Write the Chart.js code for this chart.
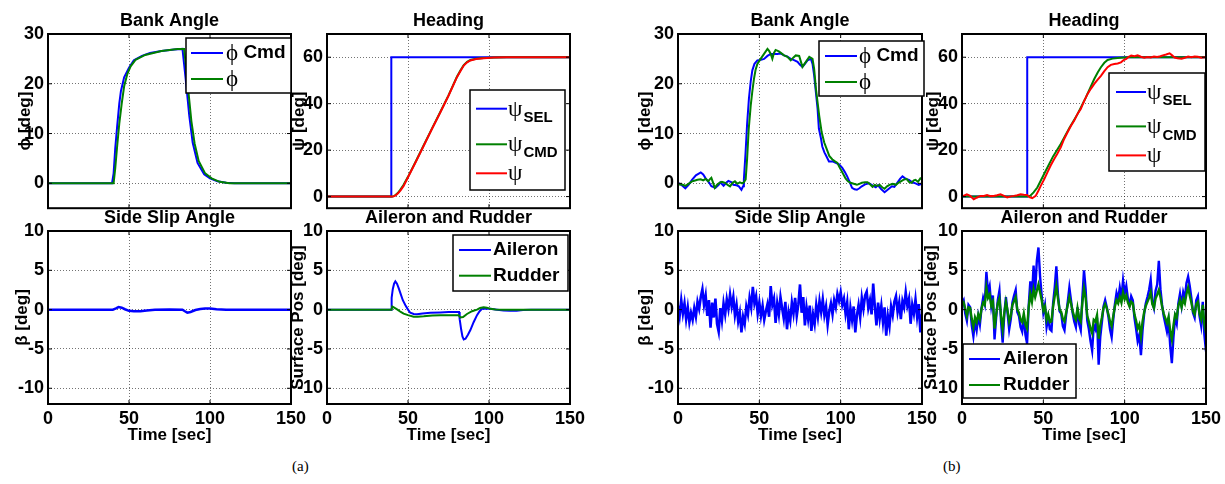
<!DOCTYPE html>
<html>
<head>
<meta charset="utf-8">
<script src="https://cdn.jsdelivr.net/npm/chart.js@4.4.0/dist/chart.umd.min.js"></script>
<style>
  body { margin: 0; background: #fff; }
  #fig { position: relative; width: 1225px; height: 484px; overflow: hidden; }
  #fig canvas { position: absolute; }
  .cap { position: absolute; font-family: 'Liberation Serif', 'Times New Roman', serif; font-size: 15px; line-height: 15px; }
</style>
</head>
<body>
<div id="fig">
  <div class="cap" style="left:292px;top:459px">(a)</div>
  <div class="cap" style="left:943px;top:459px">(b)</div>
</div>
<script>
// ---- axis ticks ----
const TIME_TICKS = [0, 50, 100, 150];
const BANK_TICKS = [0, 10, 20, 30];
const HEADING_TICKS = [0, 20, 40, 60];
const SLIP_TICKS = [-10, -5, 0, 5, 10];

// ---- run (a): smooth response, [time, value] ----
const phiCmdA = [[0,0],[39.5,0],[40.5,2],[41.5,7],[42.7,11.5],[44,16],[45,18.5],[47,21.3],[50,23.2],[53,24.7],[58,25.6],[63,26.2],[70,26.6],[78,26.9],[83,27],[84,24],[85.2,20.3],[87.2,13.6],[89.3,8.2],[92.3,4.1],[96.4,1.8],[100,1],[104.6,0.4],[110,0.1],[115,0],[150,0]];
const phiA = [[0,0],[40.5,0],[41.5,3],[42.7,7.5],[44,12],[45.5,16],[47,19.5],[49,22],[51,23.5],[54,24.8],[60,25.8],[70,26.6],[80,27],[84,27],[85,24],[86.5,19],[88.5,12.5],[90.5,8],[93,4.5],[97,2],[101,1],[106,0.3],[112,0],[150,0]];
const psiSelA = [[0,0],[39.7,0],[39.7,60],[150,60]];
const psiCmdA = [[0,0],[40.3,0],[41.3,0.2],[42.3,0.7],[43.8,1.6],[45.3,3],[47.1,4.9],[50,8.5],[55,15.4],[59.7,22.1],[65,29.6],[70,36.5],[75,43.6],[80.2,51.6],[82.5,54.5],[84.4,56.6],[86.5,58],[88.5,58.8],[92,59.3],[96.7,59.7],[103,59.9],[111,60],[150,60]];
const psiA = [[0,0],[40.5,0],[41.5,0.2],[42.5,0.6],[44,1.5],[45.5,2.8],[47.3,4.6],[50,8.3],[55,15.2],[59.7,21.9],[65,29.4],[70,36.3],[75,43.4],[80.2,51.4],[82.5,54.2],[84.4,56.4],[86.5,57.8],[88.5,58.6],[92,59.2],[96.7,59.6],[103,59.9],[111,60],[150,60]];
const betaA = [[0,0],[40,0],[42,0.15],[43.6,0.34],[45.5,0.25],[47.5,0.05],[50,-0.15],[53,-0.22],[57,-0.2],[61,-0.1],[66,0],[75,0.02],[83,0],[84.5,-0.2],[86,-0.38],[88,-0.3],[91,-0.05],[94,0.08],[97,0.15],[100,0.14],[104,0.05],[110,-0.02],[120,0],[150,0]];
const aileronA = [[0,0],[39.7,0],[39.9,1.5],[40.6,2.6],[41.4,3.3],[42.2,3.6],[43.2,3.3],[44.3,2.7],[45.3,2.1],[46.8,1.2],[48.4,0.55],[50,0],[51.4,-0.4],[53.5,-0.55],[55.6,-0.6],[59,-0.5],[63.8,-0.4],[70,-0.35],[75,-0.3],[81.5,-0.3],[81.9,-1.2],[82.8,-2.5],[83.6,-3.4],[84.4,-3.8],[85.5,-3.7],[87,-3.2],[88.5,-2.6],[90.5,-1.6],[92.6,-0.7],[94.2,-0.2],[95.7,0.1],[97.5,0.15],[100.8,0.1],[105,0],[109,-0.1],[113,-0.15],[117,-0.15],[121,-0.05],[126,0],[150,0]];
const rudderA = [[0,0],[39.8,0],[40.3,0.4],[41.5,0.25],[43.5,0],[45.5,-0.3],[47.3,-0.5],[50,-0.7],[53.5,-0.9],[56,-0.9],[59.7,-0.85],[65,-0.75],[70,-0.7],[76,-0.7],[81.3,-0.7],[82.3,-1.0],[84,-0.95],[86.4,-0.55],[89.5,-0.2],[92.6,0],[94.5,0.2],[96.7,0.3],[98.7,0.25],[100.8,0.1],[104,0.02],[110,0],[150,0]];

// ---- run (b): with turbulence ----
const phiCmdB = [[0,0.1],[2,-0.3],[4.5,-1.0],[6.5,-0.3],[8.6,0.7],[11,1.6],[14,2.2],[15.5,1.8],[17,1.0],[19,0.2],[20.5,-0.6],[23,-0.9],[25,-0.3],[26,0.2],[28,-0.5],[30,0.2],[31,0.5],[33,0.2],[34,-0.3],[36,-0.4],[37.4,-0.6],[39,-1.3],[40,-0.6],[40.5,0.8],[41.5,6],[42.5,12],[43.6,17],[44.7,20.5],[45.7,22.7],[47,24],[48.8,24.7],[51,24.8],[52.9,25],[55,25.6],[57,26],[61,26],[63,26.1],[65.2,25.7],[67,25.5],[69.3,25],[71,24.8],[73.5,24.4],[75,23.8],[76.5,23.4],[78,24],[79.6,24.7],[81.7,25],[82.7,24],[83.7,21.7],[85.8,15],[86.6,11],[87.9,9],[88.7,7.4],[90,6.2],[91,5.6],[92.8,4.4],[95,4.4],[97,4.1],[99,3.8],[101,3.1],[102.5,2.3],[104,1.4],[105.5,0.3],[107,-0.9],[108.5,-1.2],[110,-1.3],[111.5,-1.0],[113,-0.6],[115,-0.2],[117.5,0],[119.5,-0.4],[121.6,-0.8],[123,-0.4],[125,-1.2],[127,-1.8],[128.5,-1.4],[130,-1.0],[131.5,-0.6],[133,-0.7],[135,0.2],[136.5,0.9],[138,1.4],[140,0.9],[142,0.7],[144,0.2],[146,0],[148,-0.3],[150,-0.1]];
const phiB = [[0,-0.3],[2,-0.2],[4.5,-0.5],[6,-0.2],[8.6,0.4],[10,0.5],[12,0.7],[14,0.8],[15.5,0.6],[17,0.9],[18.5,0.4],[19.5,0.8],[20.5,1.1],[21.5,0.2],[22.6,-0.9],[24,-0.3],[25.5,0.1],[27,0.3],[29,0.1],[30.5,-0.3],[32,-0.6],[33.5,0.1],[35,0.4],[36.5,-0.1],[38,0.2],[39.5,0],[40.5,0.2],[41.6,0.8],[42.5,5],[43.5,11],[44.7,15.6],[45.7,18.5],[46.7,21],[47.7,22.8],[48.8,24],[50.8,25],[52.9,26],[55,27],[56,26.6],[57,26],[58,25],[59,26.2],[60,26.8],[62,26.5],[63.2,26.2],[65.2,25.7],[67.3,25.4],[69.3,24.7],[71,25.3],[72.4,25.7],[74.5,25.6],[75.5,24.5],[76.5,23.4],[78.6,24.4],[80.7,25.4],[82.7,25],[83.7,23],[84.8,19],[86.8,13.6],[88.3,10.3],[89.9,8.2],[91.5,6.8],[93,5.5],[94.9,4.8],[96.5,4.4],[98,4.1],[99,3.4],[101,2.2],[103,1.0],[104.5,0.4],[106,0.1],[108,-0.1],[110,-0.3],[111.5,-0.1],[113,0.1],[115,0.2],[116.5,0.2],[118,-0.2],[119.6,-0.7],[121,-0.3],[122.5,-0.5],[124,-0.3],[125.5,-0.8],[127,-1.1],[128.5,-0.6],[130,-0.3],[132,-0.1],[134,-0.3],[135.5,0.1],[137,0.4],[138.5,0.7],[140.5,0.9],[142,0.3],[143.5,0.1],[145,0.6],[146,0.7],[147.5,0.3],[149,1.0],[150,0.8]];
const psiSelB = [[0,0],[40.1,0],[40.1,60],[150,60]];
const psiCmdB = [[0,0],[40.5,0],[42,0.4],[44,1.8],[46.3,3.9],[49,7.7],[52.5,12.5],[56,17.3],[60.7,22.6],[66,29.5],[71,35.5],[76,42.5],[81.3,50.6],[83.5,53.5],[85.4,55.7],[87.5,57.6],[89.5,58.8],[92.5,59.4],[95.7,59.7],[101.9,60],[150,60]];
const psiB = [[0,0.3],[1.5,0.5],[3,1.0],[5,0.3],[7.2,-1.2],[9,-0.5],[11.3,0.3],[13.5,0.3],[15.4,0.7],[17.5,0.2],[19.5,0.3],[21.5,0.6],[23.7,1.0],[25.5,0.4],[27.8,-0.4],[30,0.1],[32,0.3],[34,0.6],[36,1.0],[38,0.8],[40,0.7],[41.5,-0.2],[43.2,-0.7],[45.3,0.3],[46.8,2.3],[48.4,4.6],[50.5,7.4],[52.5,10.4],[54.5,13.4],[56.6,16.1],[58.5,18.3],[60.7,21.2],[62.8,24.8],[64.8,27.6],[67,30.5],[69,32.7],[71,35.6],[73,37.7],[75,41],[77.2,44.2],[79.3,46.5],[81.3,48.5],[83.4,50.4],[85.4,52],[87.5,54],[89.5,55.7],[91.5,56.7],[93.6,57.1],[95.7,57.3],[97.7,57.8],[99.4,58.8],[101,59.3],[102.5,60.2],[104,60.7],[106,60.4],[108,60.8],[110,60.2],[112,59.8],[114,60.1],[116,59.9],[118,60.3],[120,60.1],[122,60.4],[123.5,60.8],[125.5,61.2],[127.6,61.7],[129,60.9],[130.7,59.9],[132.5,59.6],[135,59.4],[137,59.8],[139,60.3],[141,60.0],[143,60.3],[145,60.2],[147,59.8],[149,60.0],[150,60.0]];

// 1 s records, t = 0..150
const betaB = [0.5,-0.8,1.2,-0.5,0.8,-1.2,0.3,-1.6,-0.4,-1.3,0.2,-0.9,1.0,0.1,1.6,2.6,0.6,1.8,-0.8,1.2,
  -2.3,0.9,-1.0,1.4,-1.8,-2.8,0.2,-1.4,0.8,-0.6,1.3,0.1,1.9,0.4,1.6,-0.7,0.6,-1.5,-0.4,-2.9,
  -0.9,-1.8,0.4,-0.6,1.5,0.3,2.9,0.8,1.7,-0.5,0.9,-0.8,0.5,-1.3,-0.2,0.7,-0.9,3.0,0.6,1.4,
  -1.7,0.8,-0.6,1.6,0.2,-1.1,1.0,-2.5,-0.3,-1.4,0.9,-0.5,1.5,-0.8,0.7,3.2,-0.4,1.6,-2.0,0.3,
  -1.2,0.5,-2.7,-0.6,-1.8,0.6,-0.9,1.1,-0.3,1.3,-0.7,0.4,-1.9,-0.2,0.8,-0.6,1.2,0.3,2.0,1.1,
  2.2,0.6,1.4,-0.5,0.9,-2.5,0.2,-1.3,0.4,-2.9,-0.7,0.6,-1.0,1.5,0.1,1.8,2.3,0.2,1.2,-0.6,
  3.3,0.4,-2.0,0.9,-1.1,0.5,-1.6,0.3,-3.3,-0.8,-2.1,0.4,-0.7,1.0,1.7,-0.3,0.9,-1.2,1.1,0.3,
  2.2,0.5,1.4,-1.8,0.6,-0.5,1.3,-0.9,0.7,-2.9,-0.6];
const aileronB = [0.8,1.2,-0.5,-1.4,0.6,0.3,-2.0,-3.4,-1.5,-2.6,-0.8,-1.9,0.2,1.5,0.7,4.8,2.2,3.0,0.5,1.8,
  -3.8,-1.0,1.2,2.4,-1.5,-4.2,-0.6,1.6,-0.4,-2.5,-1.2,0.9,1.8,2.5,-0.3,-0.8,-2.2,-2.8,-0.9,-3.2,
  -4.3,0.5,3.6,1.5,5.6,2.4,6.2,7.9,4.2,1.8,-0.4,0.6,-2.2,-1.0,-2.5,-2.7,0.8,2.8,5.5,1.9,
  -0.2,-0.5,-2.1,-2.6,-0.7,1.0,2.8,1.2,-0.4,-1.5,-2.2,0.3,-1.8,-2.6,1.5,5.0,2.6,-1.4,-2.5,-4.0,
  -5.2,-2.0,-2.5,-1.0,-7.0,-3.5,-1.6,0.4,1.2,0.3,-0.9,-2.5,-3.5,-1.2,0.7,2.1,1.3,2.8,1.5,3.7,
  2.0,3.0,1.4,0.6,1.7,1.2,-1.0,-2.4,-4.0,-3.2,-5.8,-2.6,-0.5,0.8,1.6,2.5,3.8,1.0,0.2,2.4,
  3.2,6.2,2.6,0.6,-0.8,-1.8,-2.8,-1.5,-4.6,-6.8,-3.5,-1.0,-1.8,0.8,2.0,0.5,2.2,1.4,3.4,4.2,
  3.0,1.5,-0.4,-1.0,1.2,1.7,-0.8,-2.0,1.0,-3.2,-5.3];
const rudderB = [0.6,0.9,0.1,-0.8,0.3,0.2,-1.2,-2.2,-1.0,-1.6,-0.6,-1.2,0.1,0.9,0.6,2.8,1.5,1.9,0.5,1.0,
  -2.4,-0.6,0.8,1.4,-0.8,-2.5,-0.4,1.0,-0.1,-1.5,-0.8,0.6,1.1,1.6,0.0,-0.4,-1.3,-1.6,-0.5,-1.9,
  -2.4,0.3,2.0,1.0,2.6,1.6,2.4,3.2,2.2,1.2,-0.1,0.4,-1.3,-0.6,-1.6,-1.5,0.4,1.7,3.0,1.4,
  0.0,-0.3,-1.2,-1.5,-0.4,0.6,1.6,0.8,-0.2,-0.9,-1.3,0.2,-1.1,-1.5,0.9,2.7,1.5,-0.8,-1.5,-2.4,
  -3.0,-1.3,-1.5,-0.7,-3.7,-2.0,-1.0,0.2,0.7,0.2,-0.6,-1.5,-2.1,-0.8,0.4,1.2,0.8,1.6,0.9,2.2,
  1.3,1.8,0.9,0.4,1.0,0.8,-0.6,-1.4,-2.4,-1.9,-3.4,-1.5,-0.3,0.5,1.0,1.5,2.2,0.7,0.2,1.4,
  1.9,2.5,1.6,0.4,-0.5,-1.1,-1.7,-0.9,-2.7,-3.8,-2.0,-0.6,-1.0,0.5,1.2,0.3,1.3,0.8,2.0,2.8,
  1.8,0.9,-0.2,-0.6,0.7,1.0,-0.5,-1.2,0.6,-1.9,-3.0];
const T1 = betaB.map((_, i) => i);

const BLUE = '#0000ff', GREEN = '#008000', RED = '#ff0000';
const SANS = "'Liberation Sans', Arial, sans-serif";
const SERIF = "'Liberation Serif', 'Times New Roman', serif";
const TITLE_SIZE = 18;
const LABEL_SIZE = 17;

const pts = pairs => pairs.map(([x, y]) => ({ x, y }));
const perSecond = vals => vals.map((y, i) => ({ x: T1[i], y }));

// box frame with inward tick marks, drawn over the data
const axesBox = {
  id: 'axesBox',
  afterDatasetsDraw(chart) {
    const { ctx, chartArea: a, scales } = chart;
    ctx.save();
    ctx.strokeStyle = '#000';
    ctx.lineWidth = 1;
    ctx.beginPath();
    scales.x.ticks.forEach(t => {
      const px = scales.x.getPixelForValue(t.value);
      ctx.moveTo(px, a.bottom); ctx.lineTo(px, a.bottom - 4);
      ctx.moveTo(px, a.top); ctx.lineTo(px, a.top + 4);
    });
    scales.y.ticks.forEach(t => {
      const py = scales.y.getPixelForValue(t.value);
      ctx.moveTo(a.left, py); ctx.lineTo(a.left + 4, py);
      ctx.moveTo(a.right, py); ctx.lineTo(a.right - 4, py);
    });
    ctx.stroke();
    ctx.lineWidth = 2;
    ctx.strokeRect(a.left, a.top, a.right - a.left, a.bottom - a.top);
    ctx.restore();
  }
};

// label text: greek letters in a serif face, the rest bold, "_" starts a subscript
function drawRichLabel(ctx, label, x, y) {
  const [main, sub] = label.split('_');
  ctx.textBaseline = 'middle';
  ctx.textAlign = 'left';
  ctx.fillStyle = '#000';
  for (const ch of main) {
    const greek = /[\u0370-\u03ff]/.test(ch);
    ctx.font = greek ? `23px ${SERIF}` : `bold 19px ${SANS}`;
    ctx.fillText(ch, x, y + (greek ? 1 : 0));
    x += ctx.measureText(ch).width;
  }
  if (sub) {
    ctx.font = `bold 15px ${SANS}`;
    ctx.fillText(sub, x + 1, y + 9);
  }
}

// boxed legend placed inside the axes
const boxLegend = {
  id: 'boxLegend',
  afterDraw(chart) {
    const o = chart.options.plugins.boxLegend;
    if (!o || !o.box) return;
    const ctx = chart.ctx;
    const x = o.box.x - o.origin.x, y = o.box.y - o.origin.y;
    ctx.save();
    ctx.fillStyle = '#fff';
    ctx.fillRect(x, y, o.box.w, o.box.h);
    ctx.strokeStyle = '#000';
    ctx.lineWidth = 1.5;
    ctx.strokeRect(x, y, o.box.w, o.box.h);
    chart.data.datasets.forEach((ds, i) => {
      const ry = y + o.rows[i];
      ctx.strokeStyle = ds.borderColor;
      ctx.lineWidth = 2;
      ctx.beginPath();
      ctx.moveTo(x + o.lineX0, ry);
      ctx.lineTo(x + o.lineX0 + o.lineLen, ry);
      ctx.stroke();
      drawRichLabel(ctx, ds.label, x + o.textX, ry);
    });
    ctx.restore();
  }
};

Chart.register(axesBox, boxLegend);

function makePlot(p) {
  const fig = document.getElementById('fig');
  const cl = p.area.l - 48;
  const ct = p.top ? 0 : 200;
  const cr = p.area.r + 22;
  const cb = p.top ? p.area.b + 14 : 446;
  const canvas = document.createElement('canvas');
  canvas.width = cr - cl;
  canvas.height = cb - ct;
  canvas.style.left = cl + 'px';
  canvas.style.top = ct + 'px';
  canvas.style.width = (cr - cl) + 'px';
  canvas.style.height = (cb - ct) + 'px';
  fig.appendChild(canvas);

  const titleLH = TITLE_SIZE * 1.2, labelLH = LABEL_SIZE * 1.2;
  const titleY = p.top ? 21 : 218;
  const tPadTop = titleY - ct - titleLH / 2;
  const tPadBottom = p.area.t - ct - tPadTop - titleLH;
  const n = p.series.length;

  new Chart(canvas, {
    type: 'line',
    data: {
      datasets: p.series.map((s, i) => ({
        label: s.label,
        data: s.data,
        borderColor: s.color,
        borderWidth: s.width || 2,
        pointRadius: 0,
        tension: 0,
        fill: false,
        order: n - i
      }))
    },
    options: {
      responsive: false,
      animation: false,
      events: [],
      layout: { padding: { left: 0, right: 22, top: 0, bottom: 0 } },
      plugins: {
        legend: { display: false },
        tooltip: { enabled: false },
        title: {
          display: true, text: p.title, fullSize: false, color: '#000',
          font: { family: SANS, size: TITLE_SIZE, weight: 'bold' },
          padding: { top: tPadTop, bottom: tPadBottom }
        },
        boxLegend: p.legend ? Object.assign({ origin: { x: cl, y: ct } }, p.legend) : {}
      },
      scales: {
        x: {
          type: 'linear', min: 0, max: 150,
          afterBuildTicks: s => { s.ticks = TIME_TICKS.map(v => ({ value: v })); },
          afterFit: s => { s.height = cb - p.area.b; },
          grid: { color: 'rgba(0,0,0,0.55)', lineWidth: 1, drawTicks: false },
          border: { display: false, dash: [1, 2] },
          ticks: {
            display: !p.top, color: '#000', padding: 4, maxRotation: 0, autoSkip: false,
            font: { family: SANS, size: 18, weight: 'bold' }
          },
          title: {
            display: !p.top, text: 'Time [sec]', color: '#000',
            font: { family: SANS, size: LABEL_SIZE, weight: 'bold' },
            padding: { top: 0, bottom: cb - 435 - labelLH / 2 }
          }
        },
        y: {
          type: 'linear', min: p.yMin, max: p.yMax,
          afterBuildTicks: s => { s.ticks = p.yTicks.map(v => ({ value: v })); },
          afterFit: s => { s.width = p.area.l - cl; },
          grid: { color: 'rgba(0,0,0,0.55)', lineWidth: 1, drawTicks: false },
          border: { display: false, dash: [1, 2] },
          ticks: {
            color: '#000', padding: 4,
            font: { family: SANS, size: 18, weight: 'bold' }
          },
          title: {
            display: true, text: p.yLabel, color: '#000',
            font: { family: SANS, size: LABEL_SIZE, weight: 'bold' },
            padding: { top: p.yLabelX - cl - labelLH / 2, bottom: 0 }
          }
        }
      }
    }
  });
}

// ---- run (a) ----
makePlot({
  top: true, area: { l: 48, r: 291, t: 34, b: 209 }, title: 'Bank Angle',
  yMin: -5, yMax: 30, yTicks: BANK_TICKS, yLabel: 'ϕ [deg]', yLabelX: 25,
  series: [
    { label: 'ϕ Cmd', data: pts(phiCmdA), color: BLUE },
    { label: 'ϕ', data: pts(phiA), color: GREEN }
  ],
  legend: { box: { x: 186, y: 38, w: 105, h: 55 }, rows: [15, 41], lineX0: 5, lineLen: 32, textX: 40 }
});
makePlot({
  top: true, area: { l: 327, r: 570, t: 34, b: 209 }, title: 'Heading',
  yMin: -5, yMax: 70, yTicks: HEADING_TICKS, yLabel: 'ψ [deg]', yLabelX: 299,
  series: [
    { label: 'ψ_SEL', data: pts(psiSelA), color: BLUE },
    { label: 'ψ_CMD', data: pts(psiCmdA), color: GREEN },
    { label: 'ψ', data: pts(psiA), color: RED }
  ],
  legend: { box: { x: 470, y: 90, w: 95, h: 100 }, rows: [18.7, 54.3, 83.3], lineX0: 6, lineLen: 31, textX: 38 }
});
makePlot({
  top: false, area: { l: 48, r: 291, t: 231, b: 404 }, title: 'Side Slip Angle',
  yMin: -12, yMax: 10, yTicks: SLIP_TICKS, yLabel: 'β [deg]', yLabelX: 22,
  series: [{ label: 'β', data: pts(betaA), color: BLUE, width: 2.5 }]
});
makePlot({
  top: false, area: { l: 327, r: 570, t: 231, b: 404 }, title: 'Aileron and Rudder',
  yMin: -12, yMax: 10, yTicks: SLIP_TICKS, yLabel: 'Surface Pos [deg]', yLabelX: 298,
  series: [
    { label: 'Aileron', data: pts(aileronA), color: BLUE },
    { label: 'Rudder', data: pts(rudderA), color: GREEN }
  ],
  legend: { box: { x: 453, y: 235, w: 115, h: 56 }, rows: [15, 40.7], lineX0: 6, lineLen: 32, textX: 40 }
});

// ---- run (b) ----
makePlot({
  top: true, area: { l: 678, r: 922, t: 34, b: 209 }, title: 'Bank Angle',
  yMin: -5, yMax: 30, yTicks: BANK_TICKS, yLabel: 'ϕ [deg]', yLabelX: 645,
  series: [
    { label: 'ϕ Cmd', data: pts(phiCmdB), color: BLUE },
    { label: 'ϕ', data: pts(phiB), color: GREEN }
  ],
  legend: { box: { x: 819, y: 41, w: 105, h: 55 }, rows: [15, 41], lineX0: 6, lineLen: 32, textX: 40 }
});
makePlot({
  top: true, area: { l: 962, r: 1206, t: 34, b: 209 }, title: 'Heading',
  yMin: -5, yMax: 70, yTicks: HEADING_TICKS, yLabel: 'ψ [deg]', yLabelX: 933,
  series: [
    { label: 'ψ_SEL', data: pts(psiSelB), color: BLUE },
    { label: 'ψ_CMD', data: pts(psiCmdB), color: GREEN },
    { label: 'ψ', data: pts(psiB), color: RED }
  ],
  legend: { box: { x: 1109, y: 73, w: 96, h: 98 }, rows: [19, 53.4, 82.4], lineX0: 7, lineLen: 30, textX: 38 }
});
makePlot({
  top: false, area: { l: 678, r: 922, t: 231, b: 404 }, title: 'Side Slip Angle',
  yMin: -12, yMax: 10, yTicks: SLIP_TICKS, yLabel: 'β [deg]', yLabelX: 645,
  series: [{ label: 'β', data: perSecond(betaB), color: BLUE, width: 2.6 }]
});
makePlot({
  top: false, area: { l: 962, r: 1206, t: 231, b: 404 }, title: 'Aileron and Rudder',
  yMin: -12, yMax: 10, yTicks: SLIP_TICKS, yLabel: 'Surface Pos [deg]', yLabelX: 931,
  series: [
    { label: 'Aileron', data: perSecond(aileronB), color: BLUE, width: 2.4 },
    { label: 'Rudder', data: perSecond(rudderB), color: GREEN, width: 2.4 }
  ],
  legend: { box: { x: 963, y: 344, w: 113, h: 54 }, rows: [15, 41], lineX0: 6, lineLen: 31, textX: 40 }
});
</script>
</body>
</html>
